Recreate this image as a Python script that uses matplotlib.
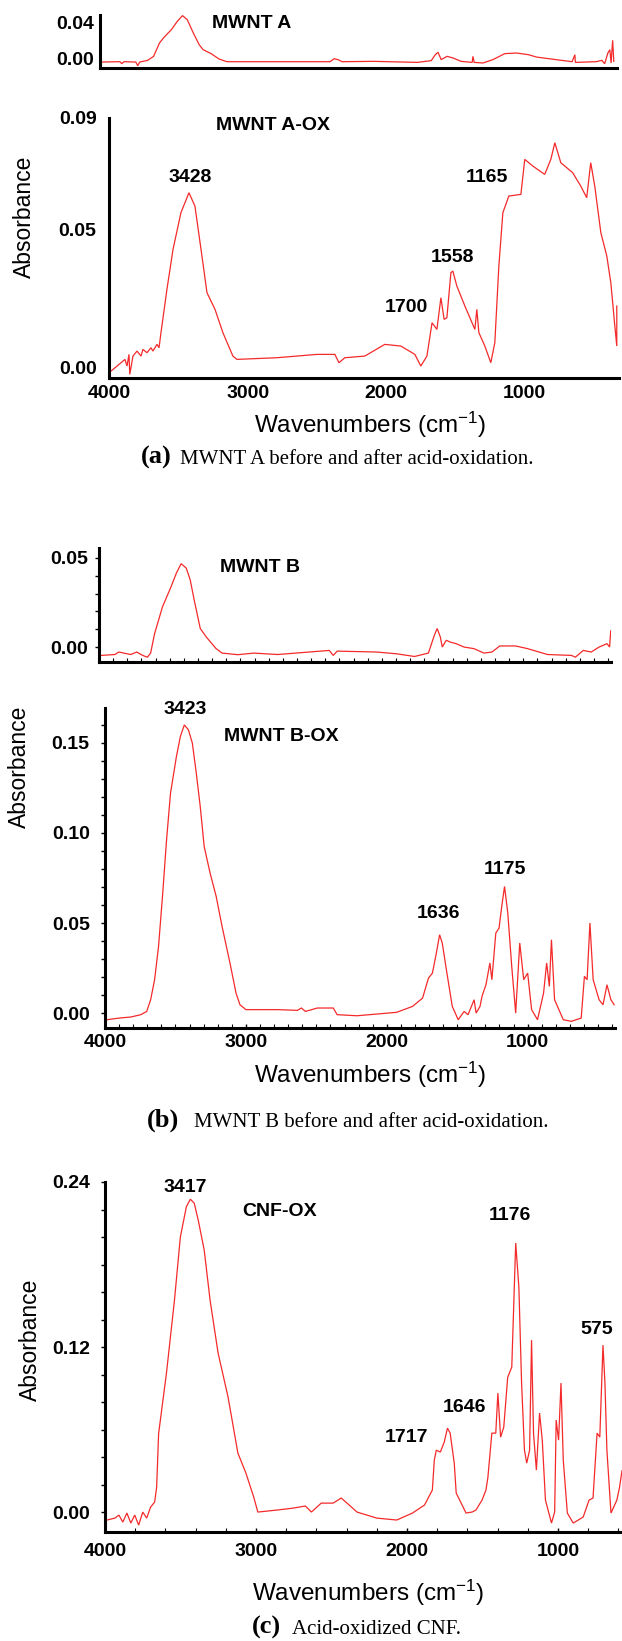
"""
plot.py
-------
FTIR absorbance spectra of the nanotube / nanofibre samples before and
after acid oxidation, redrawn as three stacked figure panels (a)-(c).
"""

import matplotlib
matplotlib.use("Agg")
import matplotlib.pyplot as plt
from matplotlib.ticker import FixedLocator, MultipleLocator

# ---------------------------------------------------------------------------
# Spectra (wavenumber in cm-1, absorbance)
# ---------------------------------------------------------------------------
mwnt_a_wn = [3986, 3859, 3844, 3830, 3745, 3731, 3717, 3661, 3618, 3576, 3548,
             3491, 3449, 3412, 3378, 3335, 3293, 3265, 3208, 3152, 3095, 2897,
             2360, 2331, 2303, 2275, 2049, 1738, 1639, 1610, 1591, 1568, 1526,
             1483, 1427, 1347, 1342, 1333, 1271, 1200, 1115, 1031, 946, 889,
             748, 635, 615, 612, 465, 423, 403, 380, 366, 357, 346, 338]
mwnt_a_abs = [-0.0046, -0.0042, -0.0065, -0.0042, -0.0046, -0.0088, -0.0046,
              -0.0027, 0.0019, 0.0171, 0.0229, 0.0324, 0.0419, 0.0484, 0.0438,
              0.0286, 0.0152, 0.0095, 0.0050, -0.0011, -0.0042, -0.0042,
              -0.0042, -0.0008, -0.0019, -0.0042, -0.0038, -0.0050, -0.0030,
              0.0038, 0.0065, -0.0019, 0.0019, 0.0000, -0.0038, -0.0050,
              0.0019, -0.0050, -0.0057, -0.0019, 0.0050, 0.0057, 0.0038,
              0.0011, -0.0019, -0.0042, 0.0038, -0.0050, -0.0042, -0.0027,
              -0.0065, 0.0057, 0.0095, -0.0057, 0.0202, -0.0038]

mwnt_a_ox_wn = [4000, 3971, 3942, 3913, 3885, 3870, 3856, 3850, 3827, 3798,
                3769, 3755, 3726, 3697, 3683, 3654, 3639, 3625, 3582, 3538, 3481,
                3423, 3380, 3336, 3293, 3235, 3178, 3106, 3077, 2788, 2500, 2370,
                2341, 2298, 2154, 2010, 1894, 1793, 1750, 1706, 1669, 1634, 1605,
                1582, 1562, 1533, 1519, 1490, 1432, 1360, 1346, 1331, 1288, 1245,
                1216, 1187, 1158, 1115, 1028, 1000, 942, 856, 812, 783, 740, 654,
                596, 553, 524, 495, 451, 408, 379, 350, 336, 336]
mwnt_a_ox_abs = [-0.0017, -0.0005, 0.0007, 0.0019, 0.0031, 0.0007, 0.0049,
                 -0.0023, 0.0043, 0.0061, 0.0043, 0.0067, 0.0055, 0.0073,
                 0.0061, 0.0085, 0.0073, 0.0127, 0.0283, 0.0427, 0.0559, 0.0631,
                 0.0583, 0.0427, 0.0271, 0.0211, 0.0127, 0.0043, 0.0031, 0.0037,
                 0.0049, 0.0049, 0.0019, 0.0037, 0.0043, 0.0085, 0.0079, 0.0049,
                 0.0007, 0.0043, 0.0163, 0.0139, 0.0253, 0.0175, 0.0181, 0.0343,
                 0.0349, 0.0295, 0.0223, 0.0139, 0.0211, 0.0127, 0.0079, 0.0019,
                 0.0091, 0.0367, 0.0559, 0.0619, 0.0625, 0.0751, 0.0727, 0.0697,
                 0.0751, 0.0811, 0.0739, 0.0703, 0.0655, 0.0613, 0.0739, 0.0655,
                 0.0487, 0.0403, 0.0307, 0.0151, 0.0079, 0.0223]

mwnt_b_wn = [3986, 3888, 3860, 3776, 3733, 3691, 3658, 3635, 3607, 3551, 3495,
             3453, 3419, 3383, 3355, 3327, 3284, 3242, 3172, 3130, 3018, 2906,
             2737, 2372, 2344, 2316, 2036, 1896, 1769, 1671, 1629, 1609, 1587,
             1573, 1545, 1517, 1475, 1419, 1349, 1278, 1222, 1166, 1054, 970,
             829, 660, 632, 576, 520, 464, 408, 390, 382]
mwnt_b_abs = [-0.0047, -0.0042, -0.0028, -0.0042, -0.0028, -0.0047, -0.0057,
              -0.0034, 0.0075, 0.0226, 0.0330, 0.0415, 0.0468, 0.0443, 0.0377,
              0.0264, 0.0104, 0.0057, -0.0009, -0.0034, -0.0043, -0.0034,
              -0.0042, -0.0019, -0.0047, -0.0023, -0.0028, -0.0038, -0.0053,
              -0.0034, 0.0066, 0.0104, 0.0057, 0.0000, 0.0038, 0.0028, 0.0019,
              0.0000, -0.0009, -0.0034, -0.0028, 0.0006, 0.0006, -0.0009,
              -0.0042, -0.0047, -0.0057, -0.0019, -0.0028, 0.0000, 0.0019,
              0.0000, 0.0091]

mwnt_b_ox_wn = [3986, 3901, 3817, 3746, 3704, 3676, 3648, 3620, 3592, 3563, 3535,
                3493, 3465, 3437, 3408, 3380, 3352, 3324, 3296, 3254, 3211, 3169,
                3113, 3070, 3042, 3000, 2775, 2634, 2606, 2577, 2493, 2380, 2352,
                2211, 1930, 1817, 1746, 1704, 1676, 1648, 1625, 1606, 1577, 1535,
                1493, 1451, 1423, 1380, 1366, 1338, 1324, 1296, 1268, 1254, 1226,
                1203, 1184, 1164, 1141, 1113, 1085, 1056, 1028, 1000, 972, 930,
                887, 865, 846, 831, 809, 747, 690, 620, 597, 578, 558, 535, 493,
                465, 437, 409, 386]
mwnt_b_ox_abs = [-0.0037, -0.0028, -0.0022, -0.0009, 0.0009, 0.0074, 0.0185,
                 0.0370, 0.0648, 0.0962, 0.1221, 0.1425, 0.1536, 0.1600, 0.1573,
                 0.1499, 0.1332, 0.1147, 0.0925, 0.0777, 0.0648, 0.0481, 0.0278,
                 0.0111, 0.0046, 0.0019, 0.0019, 0.0015, 0.0028, 0.0009, 0.0028,
                 0.0028, -0.0009, -0.0015, 0.0004, 0.0037, 0.0083, 0.0194,
                 0.0222, 0.0333, 0.0435, 0.0389, 0.0241, 0.0037, -0.0037, 0.0009,
                 -0.0009, 0.0074, 0.0000, 0.0037, 0.0093, 0.0157, 0.0278, 0.0185,
                 0.0444, 0.0472, 0.0592, 0.0703, 0.0555, 0.0259, 0.0000, 0.0389,
                 0.0185, 0.0222, 0.0019, -0.0037, 0.0111, 0.0278, 0.0148, 0.0407,
                 0.0074, -0.0037, -0.0046, -0.0028, 0.0204, 0.0185, 0.0500,
                 0.0185, 0.0074, 0.0046, 0.0157, 0.0074, 0.0046]

cnf_ox_wn = [3987, 3934, 3908, 3882, 3855, 3829, 3803, 3777, 3750, 3724, 3698,
             3671, 3658, 3645, 3593, 3540, 3501, 3461, 3435, 3409, 3382, 3343,
             3304, 3251, 3185, 3120, 3067, 3015, 2988, 2857, 2752, 2673, 2633,
             2568, 2489, 2436, 2397, 2331, 2200, 2068, 1963, 1884, 1832, 1819,
             1806, 1779, 1753, 1732, 1714, 1687, 1674, 1609, 1569, 1543, 1503,
             1477, 1464, 1438, 1412, 1398, 1380, 1359, 1333, 1306, 1280, 1259,
             1241, 1222, 1207, 1188, 1175, 1162, 1143, 1122, 1104, 1083, 1043,
             1022, 1012, 996, 980, 965, 938, 899, 833, 794, 768, 741, 723, 702,
             689, 676, 649, 610, 592, 576]
cnf_ox_abs = [-0.0058, -0.0044, -0.0022, -0.0073, -0.0007, -0.0080, -0.0022,
              -0.0095, 0.0000, -0.0044, 0.0036, 0.0073, 0.0180, 0.0570, 0.1010,
              0.1540, 0.2000, 0.2220, 0.2275, 0.2246, 0.2120, 0.1905, 0.1540,
              0.1156, 0.0836, 0.0429, 0.0284, 0.0109, 0.0000, 0.0015, 0.0029,
              0.0044, 0.0000, 0.0065, 0.0065, 0.0102, 0.0065, 0.0000, -0.0044,
              -0.0058, -0.0007, 0.0051, 0.0160, 0.0378, 0.0450, 0.0436, 0.0510,
              0.0610, 0.0574, 0.0356, 0.0138, -0.0007, 0.0000, 0.0015, 0.0087,
              0.0160, 0.0254, 0.0574, 0.0574, 0.0865, 0.0545, 0.0618, 0.0980,
              0.1054, 0.1956, 0.1636, 0.0938, 0.0450, 0.0356, 0.0450, 0.1250,
              0.0574, 0.0305, 0.0720, 0.0523, 0.0087, -0.0080, 0.0000, 0.0669,
              0.0523, 0.0938, 0.0378, -0.0007, -0.0080, -0.0036, 0.0087, 0.0102,
              0.0574, 0.0545, 0.1214, 0.0938, 0.0450, -0.0007, 0.0087, 0.0182,
              0.0300]

# Tick values / labels and the peak annotations of each panel
wn_ticks = [4000, 3000, 2000, 1000]
wn_tick_labels = ["4000", "3000", "2000", "1000"]
a_top_ticks = [0.0, 0.04]
a_ox_ticks = [0.0, 0.05, 0.09]
b_top_ticks = [0.0, 0.05]
b_ox_ticks = [0.0, 0.05, 0.10, 0.15]
c_ticks = [0.0, 0.12, 0.24]

a_ox_peaks = ["3428", "1165", "1558", "1700"]
b_ox_peaks = ["3423", "1636", "1175"]
c_peaks = ["3417", "1176", "575", "1646", "1717"]

captions = [("(a)", "MWNT A before and after acid-oxidation."),
            ("(b)", "MWNT B before and after acid-oxidation."),
            ("(c)", "Acid-oxidized CNF.")]

# ---------------------------------------------------------------------------
# Layout helpers (everything is placed in reference pixel coordinates)
# ---------------------------------------------------------------------------
W, H = 622, 1641
SANS = "Liberation Sans"
SERIF = "Liberation Serif"
RED = "#f42a2a"

plt.rcParams["mathtext.default"] = "regular"
fig = plt.figure(figsize=(W / 100, H / 100), dpi=100)


def px_axes(left, top, right, bottom):
    """Create an axes whose box is given in figure pixels (origin top-left)."""
    return fig.add_axes([left / W, 1 - bottom / H, (right - left) / W,
                         (bottom - top) / H])


def px_text(x, y, s, **kw):
    """Place a text at figure pixel coordinates."""
    return fig.text(x / W, 1 - y / H, s, **kw)


def spectrum_axes(box, wn, ab, xlim, ylim, yticks, ylabels=None,
                  xlabels=True, minor_y=None, minor_x=None, ypad=6, xpad=6):
    """One spectrum: thick L-shaped axes, red trace, bold tick labels."""
    ax = px_axes(*box)
    ax.plot(wn, ab, color=RED, lw=0.9, solid_joinstyle="miter")
    ax.set_xlim(*xlim)
    ax.set_ylim(*ylim)
    for side in ("top", "right"):
        ax.spines[side].set_visible(False)
    for side in ("left", "bottom"):
        ax.spines[side].set_linewidth(2.2)
        ax.spines[side].set_capstyle("projecting")
    ax.patch.set_alpha(0)

    ax.yaxis.set_major_locator(FixedLocator(yticks))
    ax.set_yticklabels(ylabels or ["%.2f" % v for v in yticks])
    if xlabels:
        ax.xaxis.set_major_locator(FixedLocator(wn_ticks))
        ax.set_xticklabels(wn_tick_labels)
    else:
        ax.set_xticks([])
    if minor_y:
        ax.yaxis.set_minor_locator(MultipleLocator(minor_y))
    if minor_x:
        ax.xaxis.set_minor_locator(MultipleLocator(minor_x))

    ax.tick_params(axis="y", which="major", length=3 if minor_y else 0,
                   width=1, direction="out", pad=ypad)
    ax.tick_params(axis="y", which="minor", length=3, width=1, direction="out")
    ax.tick_params(axis="x", which="major", length=3 if minor_x else 0,
                   width=1, direction="in", pad=xpad)
    ax.tick_params(axis="x", which="minor", length=3, width=0.8,
                   direction="in")
    for lab in ax.get_xticklabels() + ax.get_yticklabels():
        lab.set_fontfamily(SANS)
        lab.set_fontweight("bold")
        lab.set_fontsize(14)
    return ax


def bold_label(x, y, s, ha="center"):
    px_text(x, y, s, ha=ha, va="center", fontsize=14, fontweight="bold",
            family=SANS)


def axis_titles(ylab_xy, xlab_xy):
    px_text(*ylab_xy, "Absorbance", rotation=90, ha="center", va="center",
            fontsize=16.5, family=SANS)
    px_text(*xlab_xy, "Wavenumbers (cm$^{-1}$)", ha="center", va="center",
            fontsize=17.5, family=SANS)


def caption(x_tag, x_text, y, tag, text):
    px_text(x_tag, y, tag, ha="left", va="baseline", fontsize=19,
            fontweight="bold", family=SERIF)
    px_text(x_text, y, text, ha="left", va="baseline", fontsize=15,
            family=SERIF)


# ---------------------------------------------------------------------------
# (a) MWNT A before / after oxidation
# ---------------------------------------------------------------------------
spectrum_axes((100, 15, 617, 68), mwnt_a_wn, mwnt_a_abs, (4000, 315),
              (-0.0114, 0.0491), a_top_ticks, xlabels=False, ypad=4)
bold_label(212, 23, "MWNT A", ha="left")

spectrum_axes((109, 118, 619, 378), mwnt_a_ox_wn, mwnt_a_ox_abs, (4000, 320),
              (-0.0036, 0.09), a_ox_ticks, ypad=9, xpad=5)
bold_label(216, 125, "MWNT A-OX", ha="left")
for s, (x, y) in zip(a_ox_peaks, [(190, 178), (487, 178), (452, 258),
                                  (406, 307)]):
    bold_label(x, y, s)
axis_titles((24, 217), (370, 425))
caption(141, 180, 464, *captions[0])

# ---------------------------------------------------------------------------
# (b) MWNT B before / after oxidation
# ---------------------------------------------------------------------------
spectrum_axes((99, 548, 611, 662), mwnt_b_wn, mwnt_b_abs, (4000, 380),
              (-0.0084, 0.0556), b_top_ticks, xlabels=False, minor_y=0.01,
              minor_x=100, ypad=5)
bold_label(220, 568, "MWNT B", ha="left")

spectrum_axes((105, 708, 615, 1028), mwnt_b_ox_wn, mwnt_b_ox_abs, (4000, 380),
              (-0.0083, 0.1694), b_ox_ticks, minor_y=0.01, minor_x=100,
              ypad=8, xpad=4)
bold_label(224, 737, "MWNT B-OX", ha="left")
for s, (x, y) in zip(b_ox_peaks, [(185, 710), (438, 913), (505, 869)]):
    bold_label(x, y, s)
axis_titles((19, 767), (370, 1075))
caption(147, 194, 1127, *captions[1])

# ---------------------------------------------------------------------------
# (c) oxidised carbon nanofibres
# ---------------------------------------------------------------------------
spectrum_axes((105, 1182, 622, 1532), cnf_ox_wn, cnf_ox_abs, (4000, 576),
              (-0.0145, 0.24), c_ticks, minor_y=0.02, minor_x=200,
              ypad=8, xpad=8)
bold_label(242, 1212, "CNF-OX", ha="left")
for s, (x, y) in zip(c_peaks, [(185, 1187), (510, 1215), (597, 1330),
                               (464, 1408), (407, 1438)]):
    bold_label(x, y, s)
axis_titles((30, 1340), (368, 1593))
caption(252, 292, 1634, *captions[2])

fig.savefig("out.png", dpi=100, facecolor="white")
